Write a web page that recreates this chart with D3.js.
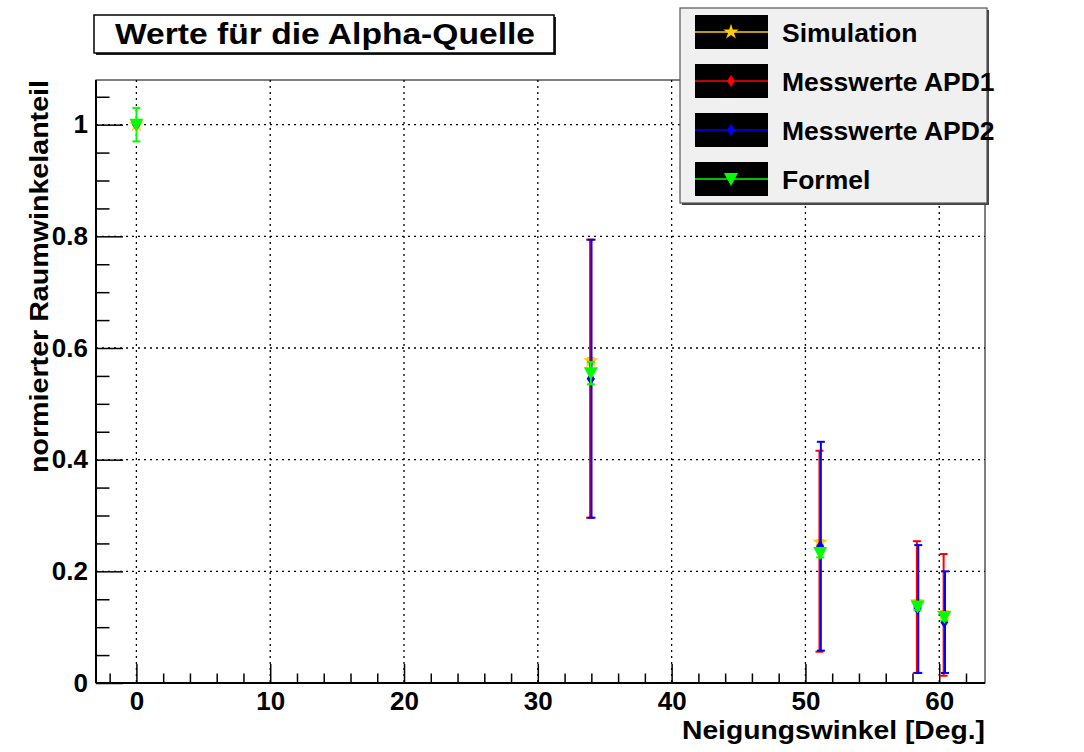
<!DOCTYPE html>
<html><head><meta charset="utf-8">
<script src="https://cdn.jsdelivr.net/npm/d3@7"></script>
<style>
body{margin:0;background:#fff;}
text{font-family:"Liberation Sans",Arial,Helvetica,sans-serif;font-weight:bold;}
</style></head>
<body><svg id="c" width="1084" height="752"></svg>
<script>
// ---- data ----
const angles      = [0, 33.96, 51.1, 58.38, 60.38];
const simulation  = [1.0, 0.577, 0.252, 0.145, 0.125];
const simErr      = [0.0, 0.005, 0.004, 0.004, 0.004];
const apd1        = [1.0, 0.545, 0.236, 0.136, 0.122];
const apd1Err     = [0.0, 0.249, 0.180, 0.118, 0.109];
const apd2        = [1.0, 0.545, 0.245, 0.1325, 0.109];
const apd2Err     = [0.0, 0.249, 0.187, 0.1145, 0.091];
const formel      = [1.0, 0.555, 0.233, 0.137, 0.118];
const formelErr   = [0.03, 0.02, 0.008, 0.006, 0.006];
const xTicks      = [0, 10, 20, 30, 40, 50, 60];
const xTickLabels = ["0", "10", "20", "30", "40", "50", "60"];
const yTicks      = [0, 0.2, 0.4, 0.6, 0.8, 1.0];
const yTickLabels = ["0", "0.2", "0.4", "0.6", "0.8", "1"];
const seriesNames = ["Simulation", "Messwerte APD1", "Messwerte APD2", "Formel"];
const title       = "Werte für die Alpha-Quelle";
const xTitle      = "Neigungswinkel [Deg.]";
const yTitle      = "normierter Raumwinkelanteil";

// ---- layout ----
const L = 96, R = 985, T = 80, B = 683;
const FS = 26;
const svg = d3.select("#c");
const x = d3.scaleLinear().domain([-3.02, 63.42]).range([L, R]);
const y = d3.scaleLinear().domain([0, 1.08]).range([B, T]);

const series = [
  {name: seriesNames[0], vals: simulation, errs: simErr, color: "#ffcc00", marker: "star"},
  {name: seriesNames[1], vals: apd1, errs: apd1Err, color: "#ff0000", marker: "diamond"},
  {name: seriesNames[2], vals: apd2, errs: apd2Err, color: "#0000ff", marker: "diamond"},
  {name: seriesNames[3], vals: formel, errs: formelErr, color: "#00ff00", marker: "tri"}
];

// grid
const grid = svg.append("g");
grid.selectAll("line.gx").data(xTicks).join("line")
  .attr("x1", d => x(d)).attr("x2", d => x(d)).attr("y1", T).attr("y2", B)
  .attr("stroke", "#000").attr("stroke-width", 1.3).attr("stroke-dasharray", "2,4");
grid.selectAll("line.gy").data(yTicks.filter(d => d > 0)).join("line")
  .attr("y1", d => y(d)).attr("y2", d => y(d)).attr("x1", L).attr("x2", R)
  .attr("stroke", "#000").attr("stroke-width", 1.3).attr("stroke-dasharray", "2,4");

// frame
svg.append("rect").attr("x", L).attr("y", T).attr("width", R - L).attr("height", B - T)
  .attr("fill", "none").attr("stroke", "#000").attr("stroke-width", 1);

// x axis
const xMinor = d3.range(-2, 63.5, 2).filter(v => Math.abs(v % 10) > 1e-9);
const gx = svg.append("g").attr("transform", `translate(0,${B})`);
gx.call(d3.axisBottom(x).tickValues(xTicks).tickFormat((d, i) => xTickLabels[i])
  .tickSize(-19).tickPadding(9));
gx.append("g").call(d3.axisBottom(x).tickValues(xMinor).tickFormat("").tickSize(-9.5))
  .select(".domain").remove();
gx.selectAll("text").attr("font-size", FS).attr("font-family", "Liberation Sans, Arial, sans-serif").attr("font-weight", "bold").attr("fill", "#000");
gx.selectAll("line").attr("stroke-width", 1.5);
gx.select(".domain").attr("stroke-width", 2).attr("d", `M${L},0H${R}`);

// y axis
const yMinor = d3.range(0.05, 1.08, 0.05).filter(v => Math.abs(v * 5 - Math.round(v * 5)) > 1e-6);
const gy = svg.append("g").attr("transform", `translate(${L},0)`);
gy.call(d3.axisLeft(y).tickValues(yTicks).tickFormat((d, i) => yTickLabels[i])
  .tickSize(-27).tickPadding(8));
gy.append("g").call(d3.axisLeft(y).tickValues(yMinor).tickFormat("").tickSize(-13.5))
  .select(".domain").remove();
gy.selectAll("text").attr("font-size", FS).attr("font-family", "Liberation Sans, Arial, sans-serif").attr("font-weight", "bold").attr("fill", "#000");
gy.selectAll("line").attr("stroke-width", 1.5);
gy.select(".domain").attr("stroke-width", 2).attr("d", `M0,${B}V${T}`);

// axis titles
svg.append("text").attr("x", R).attr("y", 739).attr("text-anchor", "end")
  .attr("font-size", 26.5).attr("textLength", 303).attr("lengthAdjust", "spacingAndGlyphs").text(xTitle);
svg.append("text").attr("transform", `translate(48,${T}) rotate(-90)`).attr("text-anchor", "end")
  .attr("font-size", 26.5).attr("textLength", 393).attr("lengthAdjust", "spacingAndGlyphs").text(yTitle);

// markers
function markerPath(type) {
  if (type === "star") return d3.symbol(d3.symbolStar, 75)();
  if (type === "diamond") return "M0,-6L4,0L0,6L-4,0Z";
  return "M-7,-6L7,-6L0,7Z";
}

const plot = svg.append("g");
series.forEach((s, si) => {
  const g = plot.append("g");
  const pts = angles.map((a, i) => ({a, v: s.vals[i], e: s.errs[i]}));
  const ew = s.marker === "diamond" ? 2 : 1.8;
  const off = si === 2 ? 0.7 : (si === 1 ? -0.7 : 0);
  pts.filter(p => p.e > 0).forEach(p => {
    const px = x(p.a) + off;
    g.append("line").attr("x1", px).attr("x2", px).attr("y1", y(p.v + p.e)).attr("y2", y(p.v - p.e))
      .attr("stroke", s.color).attr("stroke-width", ew);
    [p.v + p.e, p.v - p.e].forEach(v => {
      g.append("line").attr("x1", px - 4).attr("x2", px + 4).attr("y1", y(v)).attr("y2", y(v))
        .attr("stroke", s.color).attr("stroke-width", 2);
    });
  });
  g.selectAll("path").data(pts).join("path")
    .attr("transform", p => `translate(${x(p.a)},${y(p.v)})`)
    .attr("d", markerPath(s.marker))
    .attr("fill", s.color);
});

// title box
svg.append("rect").attr("x", 96).attr("y", 17).attr("width", 460).attr("height", 38).attr("fill", "#222");
svg.append("rect").attr("x", 94).attr("y", 15).attr("width", 460).attr("height", 38)
  .attr("fill", "#fff").attr("stroke", "#000").attr("stroke-width", 1.5);
svg.append("text").attr("x", 325).attr("y", 44).attr("text-anchor", "middle").attr("font-size", 29)
  .attr("textLength", 420).attr("lengthAdjust", "spacingAndGlyphs").text(title);

// legend
const lg = svg.append("g");
lg.append("rect").attr("x", 682).attr("y", 10).attr("width", 307).attr("height", 195).attr("fill", "#444");
lg.append("rect").attr("x", 680).attr("y", 8).attr("width", 307).attr("height", 195)
  .attr("fill", "#f0f0f0").attr("stroke", "#555").attr("stroke-width", 1.2);
series.forEach((s, i) => {
  const cy = 32 + i * 49;
  lg.append("rect").attr("x", 695).attr("y", cy - 17).attr("width", 73).attr("height", 34).attr("fill", "#000");
  lg.append("line").attr("x1", 695).attr("x2", 768).attr("y1", cy).attr("y2", cy)
    .attr("stroke", s.color).attr("stroke-width", 1.5);
  lg.append("path").attr("transform", `translate(731,${cy})`).attr("d", markerPath(s.marker)).attr("fill", s.color);
  lg.append("text").attr("x", 782).attr("y", cy + 10).attr("font-size", 26.5).text(s.name);
});
</script></body></html>
